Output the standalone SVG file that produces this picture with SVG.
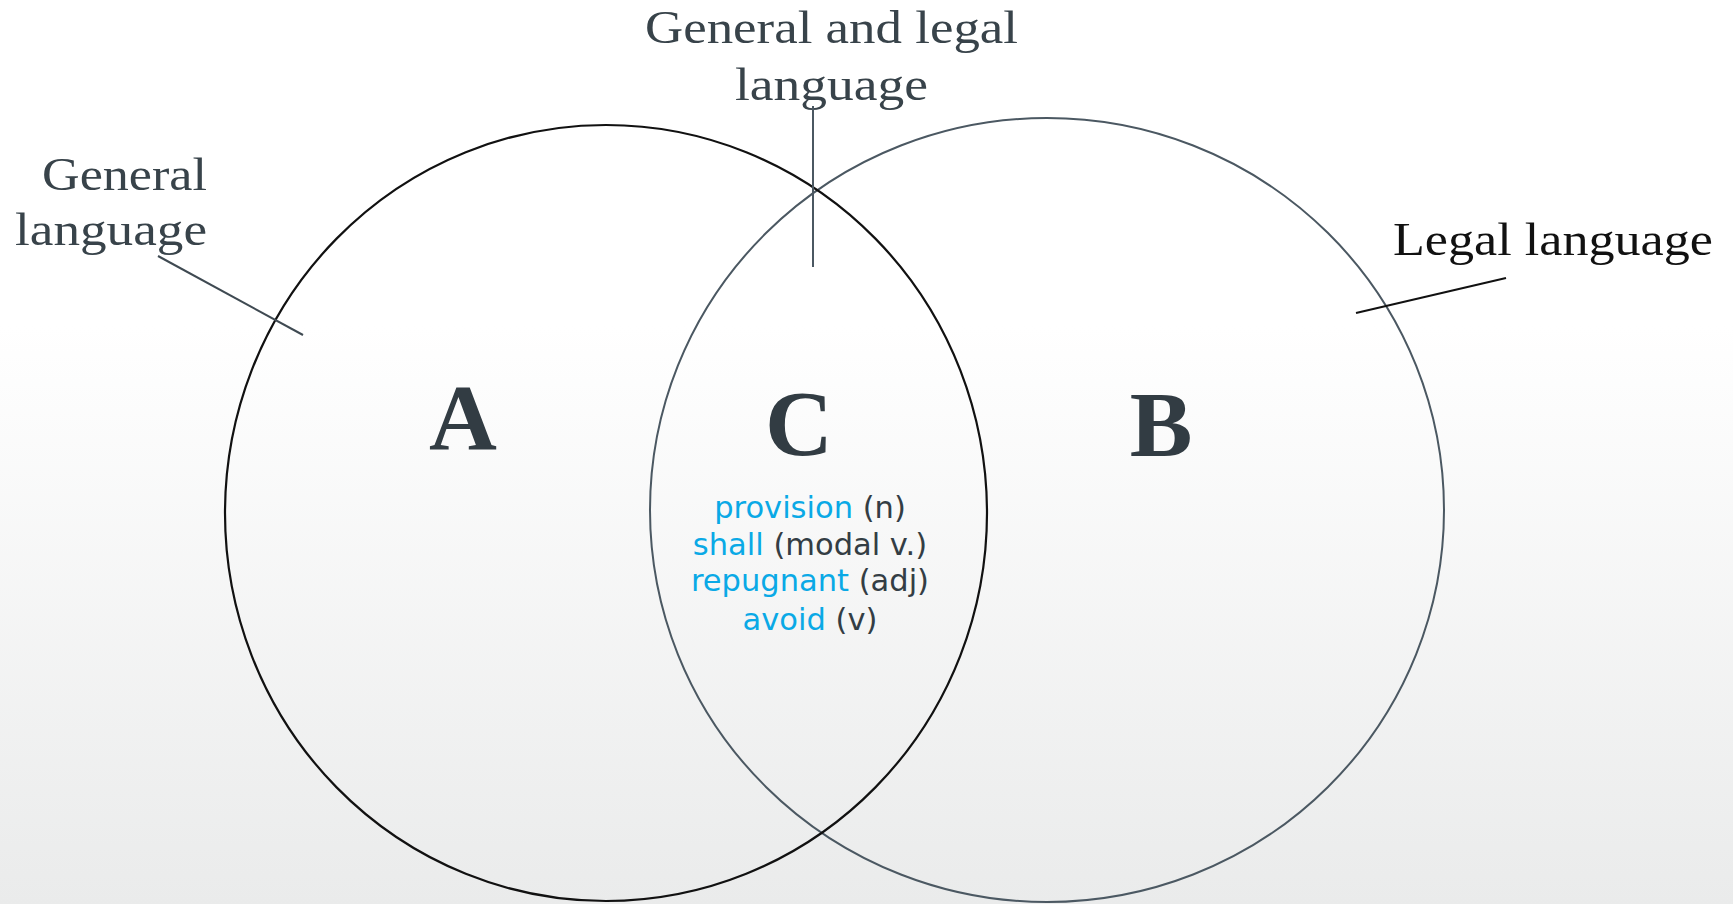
<svg xmlns="http://www.w3.org/2000/svg" width="1733" height="904" viewBox="0 0 1733 904">
<defs>
<linearGradient id="bg" x1="0" y1="0" x2="0" y2="1">
<stop offset="0" stop-color="#ffffff"/>
<stop offset="0.36" stop-color="#ffffff"/>
<stop offset="1" stop-color="#eaebeb"/>
</linearGradient>
<style>
.lbl{font-family:"Liberation Serif","Times New Roman",serif;font-size:47px;fill:#38434a}
.big{font-family:"Liberation Serif","Times New Roman",serif;font-size:94px;font-weight:bold;fill:#323c43;text-anchor:middle}
.word{font-family:"DejaVu Sans","Verdana",sans-serif;font-size:30.5px;fill:#333d44;text-anchor:middle}
.blue{fill:#0aa9e6}
.lead{stroke:#3f4a52;stroke-width:2;fill:none}
</style>
</defs>
<rect x="0" y="0" width="1733" height="904" fill="url(#bg)"/>
<g id="set-b">
<ellipse cx="1047" cy="510" rx="397" ry="392" fill="none" stroke="#4b5862" stroke-width="2"/>
<text class="big" x="1161" y="456">B</text>
</g>
<g id="set-a">
<ellipse cx="606" cy="513" rx="381" ry="388" fill="none" stroke="#111111" stroke-width="2.2"/>
<text class="big" x="463" y="449">A</text>
</g>
<g id="intersection-c">
<text class="big" x="799" y="455">C</text>
<text class="word" x="810" y="518"><tspan class="blue">provision</tspan> (n)</text>
<text class="word" x="810" y="555"><tspan class="blue">shall</tspan> (modal v.)</text>
<text class="word" x="810" y="591"><tspan class="blue">repugnant</tspan> (adj)</text>
<text class="word" x="810" y="630"><tspan class="blue">avoid</tspan> (v)</text>
</g>
<g id="label-general">
<text class="lbl" x="42" y="190" textLength="165" lengthAdjust="spacingAndGlyphs">General</text>
<text class="lbl" x="15" y="245" textLength="192" lengthAdjust="spacingAndGlyphs">language</text>
</g>
<g id="label-both">
<text class="lbl" x="645" y="43" textLength="373" lengthAdjust="spacingAndGlyphs">General and legal</text>
<text class="lbl" x="735" y="100" textLength="193" lengthAdjust="spacingAndGlyphs">language</text>
</g>
<g id="label-legal">
<text class="lbl" x="1393" y="255" textLength="320" lengthAdjust="spacingAndGlyphs" style="fill:#111111">Legal language</text>
</g>
<g id="connectors">
<line class="lead" x1="158" y1="256" x2="303" y2="335"/>
<line class="lead" x1="813" y1="106" x2="813" y2="267" style="stroke:#4b5862"/>
<line class="lead" x1="1356" y1="313" x2="1506" y2="278" style="stroke:#111111"/>
</g>
</svg>
